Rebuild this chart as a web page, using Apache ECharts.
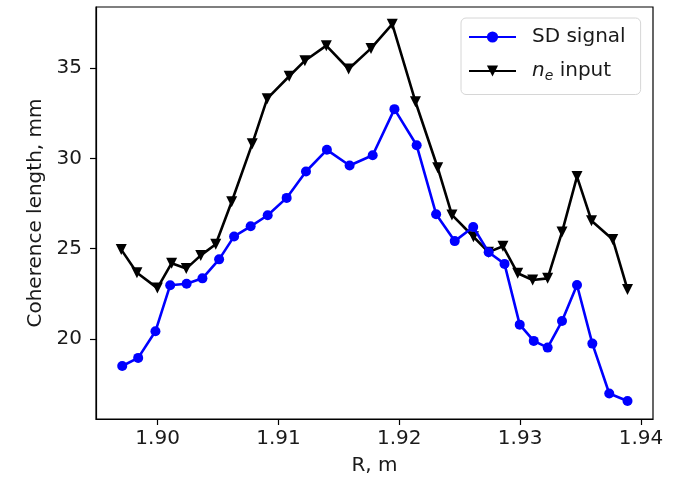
<!DOCTYPE html>
<html>
<head>
<meta charset="utf-8">
<script src="https://cdn.jsdelivr.net/npm/echarts@6/dist/echarts.min.js"></script>
<style>
html,body{margin:0;padding:0;background:#fff;}
#chart{width:689px;height:481px;}
</style>
</head>
<body>
<div id="chart"></div>
<script>
// Series data
const sdR = [1.89707,1.89839,1.89982,1.90104,1.90240,1.90371,1.90509,1.90633,1.90770,1.90911,
             1.91068,1.91228,1.91401,1.91589,1.91780,1.91960,1.92144,1.92305,1.92459,1.92612,
             1.92740,1.92871,1.92997,1.93113,1.93228,1.93347,1.93471,1.93598,1.93738,1.93889];
const sdVal = [18.51,18.96,20.43,22.98,23.06,23.36,24.41,25.68,26.24,26.85,
               27.81,29.27,30.47,29.60,30.17,32.72,30.72,26.91,25.42,26.20,
               24.80,24.16,20.80,19.90,19.53,21.00,22.99,19.75,16.99,16.58];
const neR = [1.89699,1.89829,1.89998,1.90116,1.90237,1.90357,1.90481,1.90613,1.90783,1.90907,
             1.91089,1.91219,1.91396,1.91581,1.91766,1.91942,1.92134,1.92318,1.92436,1.92614,
             1.92738,1.92858,1.92980,1.93104,1.93228,1.93347,1.93471,1.93591,1.93767,1.93889];
const neVal = [24.95,23.67,22.82,24.20,23.90,24.63,25.25,27.60,30.80,33.30,
               34.54,35.40,36.23,34.94,36.08,37.42,33.13,29.48,26.87,25.66,
               24.81,25.14,23.64,23.27,23.36,25.92,28.99,26.55,25.51,22.75];
const seriesNames = ['SD signal', 'ne input'];
const xAxisTitle = 'R, m';
const yAxisTitle = 'Coherence length, mm';

const zip = (a, b) => a.map((v, i) => [v, b[i]]);
const font = 'DejaVu Sans';
const fs = 20;

const chart = echarts.init(document.getElementById('chart'), null, {renderer: 'canvas'});
chart.setOption({
  animation: false,
  backgroundColor: '#fff',
  textStyle: {fontFamily: font},
  grid: {left: 96, right: 36, top: 7, bottom: 61, show: true, borderColor: '#000', borderWidth: 1.2, backgroundColor: 'transparent'},
  xAxis: {
    type: 'value', min: 1.8949, max: 1.9410, splitNumber: 5,
    name: xAxisTitle, nameLocation: 'middle', nameGap: 37,
    nameTextStyle: {fontSize: fs, color: '#1a1a1a', fontFamily: font},
    axisLine: {show: true, onZero: false, lineStyle: {color: '#000', width: 1.2}},
    axisTick: {show: true, inside: false, length: 6, lineStyle: {color: '#000', width: 1.2}},
    axisLabel: {fontSize: fs, color: '#1a1a1a', margin: 10, fontFamily: font, showMinLabel: false, showMaxLabel: false,
      formatter: v => v.toFixed(2)},
    splitLine: {show: false}
  },
  yAxis: {
    type: 'value', min: 15.58, max: 38.37, splitNumber: 5,
    name: yAxisTitle, nameLocation: 'middle', nameGap: 47,
    nameTextStyle: {fontSize: fs, color: '#1a1a1a', fontFamily: font},
    axisLine: {show: true, onZero: false, lineStyle: {color: '#000', width: 1.2}},
    axisTick: {show: true, inside: false, length: 6, lineStyle: {color: '#000', width: 1.2}},
    axisLabel: {fontSize: fs, color: '#1a1a1a', margin: 14, fontFamily: font, showMinLabel: false, showMaxLabel: false},
    splitLine: {show: false}
  },
  legend: {
    orient: 'vertical', left: 461, top: 18,
    padding: [9, 15, 11, 7],
    itemWidth: 47, itemHeight: 14, itemGap: 14,
    backgroundColor: '#fff', borderColor: '#d6d6d6', borderWidth: 1, borderRadius: 5,
    textStyle: {fontSize: fs, color: '#1a1a1a', fontFamily: font, padding: [0, 0, 0, 11],
      rich: {
        i: {fontSize: fs, fontStyle: 'italic', fontFamily: font, color: '#1a1a1a'},
        s: {fontSize: 14, fontStyle: 'italic', fontFamily: font, color: '#1a1a1a', padding: [11, 0, 0, 0]},
        t: {fontSize: fs, fontFamily: font, color: '#1a1a1a'}
      }},
    formatter: name => name === 'ne input' ? '{i|n}{s|e}{t| input}' : name,
    data: seriesNames
  },
  series: [
    {
      name: seriesNames[0], type: 'line', data: zip(sdR, sdVal),
      symbol: 'circle', symbolSize: 10,
      lineStyle: {color: '#0000ff', width: 2.6},
      itemStyle: {color: '#0000ff'},
      z: 3
    },
    {
      name: seriesNames[1], type: 'line', data: zip(neR, neVal),
      symbol: 'triangle', symbolSize: 11, symbolRotate: 180,
      lineStyle: {color: '#000', width: 2.6},
      itemStyle: {color: '#000'},
      z: 2
    }
  ]
});
</script>
</body>
</html>
